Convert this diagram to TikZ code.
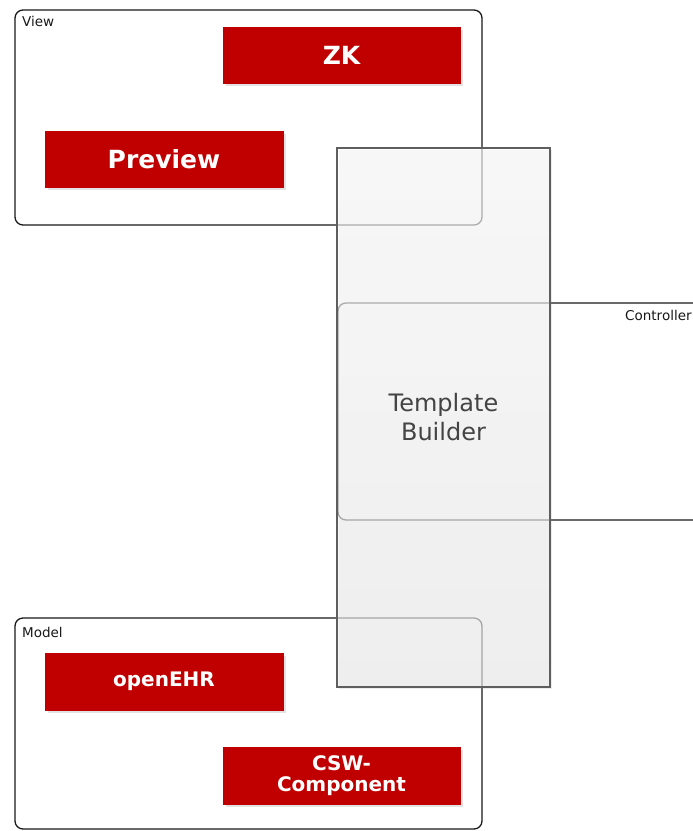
\documentclass[tikz,border=0pt]{standalone}
\usepackage{fontspec}
\setmainfont{DejaVu Sans}
\usetikzlibrary{shadows}
\definecolor{boxred}{HTML}{C00000}
\definecolor{tbtext}{HTML}{444444}
\definecolor{tbborder}{HTML}{5E5E5E}
\definecolor{frameline}{HTML}{1A1A1A}
\tikzset{
  layerbox/.style={draw=frameline, line width=1.3pt, rounded corners=8pt, inner sep=0pt},
  layerlabel/.style={anchor=base west, inner sep=0pt, font=\fontsize{13.5}{16}\selectfont, text=black!90},
  redbox/.style={fill=boxred, draw=boxred, line width=0.3pt, text=white, inner sep=0pt,
    drop shadow={opacity=0.22, shadow xshift=2.5pt, shadow yshift=-2.5pt}},
  bigred/.style={redbox, font=\bfseries\fontsize{25}{28}\selectfont},
  smallred/.style={redbox, font=\bfseries\fontsize{20}{23}\selectfont, align=center},
  builder/.style={draw=tbborder, line width=1.2pt, top color=white, bottom color=black!6,
    fill opacity=0.62, text opacity=1, text=tbtext, align=center,
    font=\fontsize{24}{29}\selectfont, inner sep=0pt,
    drop shadow={opacity=0.15, shadow xshift=2pt, shadow yshift=-2pt}},
}
\begin{document}
\begin{tikzpicture}[x=1pt, y=-1pt]
\useasboundingbox (0,0) rectangle (693,831);
\clip (0,0) rectangle (693,831);
\fill[white] (0,0) rectangle (693,831);
% layer frames
\node[layerbox, minimum width=467pt, minimum height=215pt] (view) at (248.5,117.5) {};
\node[layerlabel] (viewlabel) at (22,26) {View};
\node[layerbox, minimum width=467pt, minimum height=211pt] (model) at (248.5,723.5) {};
\node[layerlabel] (modellabel) at (22,637) {Model};
\node[layerbox, minimum width=400pt, minimum height=217pt] (controller) at (538,411.5) {};
\node[layerlabel] (controllerlabel) at (625,320) {Controller};
% components
\node[bigred, minimum width=237pt, minimum height=56pt] (zk) at (341.5,55) {ZK};
\node[bigred, minimum width=238pt, minimum height=56pt] (preview) at (164,159) {Preview};
\node[smallred, minimum width=238pt, minimum height=57pt] (openehr) at (164,681.5) {openEHR};
\node[smallred, minimum width=237pt, minimum height=57pt] (csw) at (341.5,775.5) {CSW-\\[-2pt]Component};
% template builder
\node[builder, minimum width=213pt, minimum height=539pt] (tb) at (443.5,417.5) {Template\\Builder};
\end{tikzpicture}
\end{document}
